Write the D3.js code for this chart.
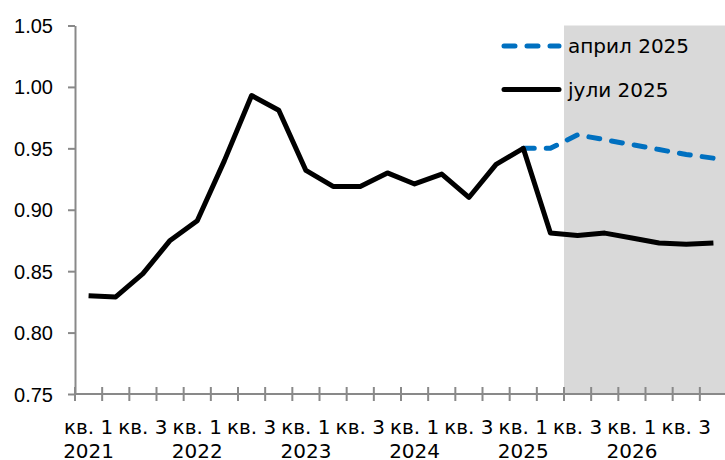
<!DOCTYPE html>
<html>
<head>
<meta charset="utf-8">
<script src="https://cdn.jsdelivr.net/npm/d3@7"></script>
<style>
  html, body { margin: 0; padding: 0; background: #fff; }
  svg { display: block; font-family: "DejaVu Sans", Verdana, sans-serif; }
</style>
</head>
<body>
<svg id="chart" width="725" height="460"></svg>
<script>
// Quarters from Q1 2021 to Q4 2026
const quarters = ["1","2","3","4","1","2","3","4","1","2","3","4","1","2","3","4","1","2","3","4","1","2","3","4"];
const years    = ["2021","2021","2021","2021","2022","2022","2022","2022","2023","2023","2023","2023",
                  "2024","2024","2024","2024","2025","2025","2025","2025","2026","2026","2026","2026"];

// July 2025 projection (full history + forecast)
const july2025 = [0.830, 0.829, 0.848, 0.875, 0.891, 0.940, 0.993, 0.981, 0.932, 0.919, 0.919, 0.930,
                  0.921, 0.929, 0.910, 0.937, 0.950, 0.881, 0.879, 0.881, 0.877, 0.873, 0.872, 0.873];
// April 2025 projection (forecast only, from Q1 2025)
const april2025 = [null, null, null, null, null, null, null, null, null, null, null, null,
                   null, null, null, null, 0.950, 0.950, 0.961, 0.957, 0.953, 0.949, 0.945, 0.942];

const yTicks = [0.75, 0.80, 0.85, 0.90, 0.95, 1.00, 1.05];
const forecastStart = 18; // shaded projection period starts at Q3 2025

const seriesNames = ["април 2025", "јули 2025"];
const seriesColors = ["#0070c0", "#000000"];

const svg = d3.select("#chart");
const plotLeft = 75, plotRight = 727, plotTop = 25.5, plotBottom = 394;
const axisColor = "#898989";

const idx = d3.range(quarters.length);
const x = d3.scaleBand().domain(idx).range([plotLeft, plotRight]).padding(0);
const xc = i => x(i) + x.bandwidth() / 2;
const y = d3.scaleLinear().domain([0.75, 1.05]).range([plotBottom, plotTop]);

// shaded forecast region
svg.append("rect")
  .attr("x", x(forecastStart))
  .attr("y", y(1.05))
  .attr("width", plotRight - x(forecastStart))
  .attr("height", y(0.75) - y(1.05))
  .attr("fill", "#d9d9d9");

// y axis
const yAxis = svg.append("g")
  .attr("transform", `translate(${plotLeft},0)`)
  .call(d3.axisLeft(y).tickValues(yTicks).tickSize(7).tickSizeOuter(0).tickPadding(15)
        .tickFormat(d3.format(".2f")));
yAxis.select(".domain").attr("stroke", axisColor).attr("stroke-width", 2);
yAxis.selectAll(".tick line").attr("stroke", axisColor).attr("stroke-width", 2);
yAxis.selectAll(".tick text")
  .attr("font-size", 20).attr("fill", "#000")
  .attr("dy", null).attr("dominant-baseline", "central");

// x axis line and crossing tick marks at category boundaries
const xAxis = svg.append("g");
xAxis.append("line")
  .attr("x1", plotLeft).attr("x2", plotRight)
  .attr("y1", plotBottom).attr("y2", plotBottom)
  .attr("stroke", axisColor).attr("stroke-width", 2);
xAxis.selectAll("line.tk").data(idx).join("line")
  .attr("class", "tk")
  .attr("x1", i => x(i)).attr("x2", i => x(i))
  .attr("y1", plotBottom - 7).attr("y2", plotBottom + 7)
  .attr("stroke", axisColor).attr("stroke-width", 2);

// category labels on every other quarter, year under the first quarter
const labelled = idx.filter(i => i % 2 === 0);
xAxis.selectAll("text.q").data(labelled).join("text")
  .attr("class", "q")
  .attr("x", xc).attr("y", 434)
  .attr("text-anchor", "middle").attr("font-size", 20).attr("fill", "#000")
  .text(i => "кв. " + quarters[i]);
xAxis.selectAll("text.yr").data(idx.filter(i => i % 4 === 0)).join("text")
  .attr("class", "yr")
  .attr("x", xc).attr("y", 458)
  .attr("text-anchor", "middle").attr("font-size", 20).attr("fill", "#000")
  .text(i => years[i]);

// lines
const line = d3.line()
  .defined(d => d.v !== null)
  .x(d => xc(d.i))
  .y(d => y(d.v));

svg.append("path")
  .datum(april2025.map((v, i) => ({ i, v })))
  .attr("d", line)
  .attr("fill", "none")
  .attr("stroke", seriesColors[0])
  .attr("stroke-width", 5)
  .attr("stroke-linecap", "round")
  .attr("stroke-dasharray", "11,12");

svg.append("path")
  .datum(july2025.map((v, i) => ({ i, v })))
  .attr("d", line)
  .attr("fill", "none")
  .attr("stroke", seriesColors[1])
  .attr("stroke-width", 5)
  .attr("stroke-linejoin", "round");

// legend
const legend = svg.append("g");
const legendRows = [46, 89.5];
seriesNames.forEach((name, k) => {
  const ly = legendRows[k];
  legend.append("line")
    .attr("x1", 504).attr("x2", 559)
    .attr("y1", ly).attr("y2", ly)
    .attr("stroke", seriesColors[k])
    .attr("stroke-width", 5)
    .attr("stroke-linecap", "round")
    .attr("stroke-dasharray", k === 0 ? "11,12" : null);
  legend.append("text")
    .attr("x", 568).attr("y", ly + 7.3)
    .attr("font-size", 20).attr("fill", "#000")
    .text(name);
});
</script>
</body>
</html>
